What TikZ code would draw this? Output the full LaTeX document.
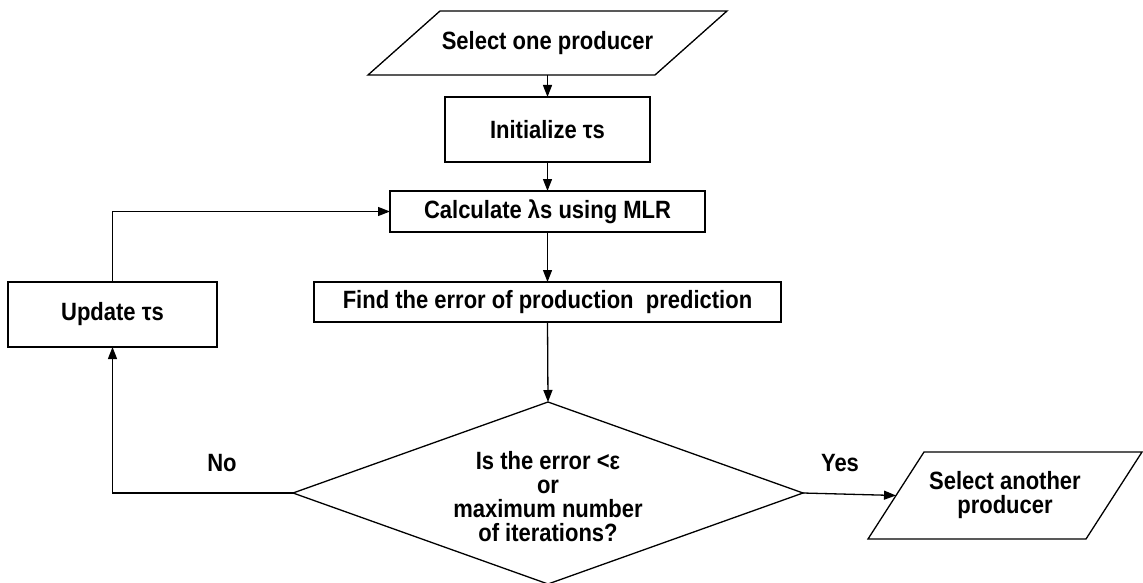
\documentclass[tikz,border=0pt]{standalone}
\usepackage{fontspec}
\setmainfont{Liberation Sans}[FakeStretch=0.88]
\usetikzlibrary{arrows.meta,shapes.geometric}
\begin{document}
\begin{tikzpicture}[x=1pt,y=-1pt,
  every node/.style={font=\fontsize{25}{24}\selectfont\bfseries, align=center, inner sep=0pt, outer sep=0pt},
  box/.style={draw, line width=1.3pt},
  iobox/.style={},
  shapeline/.style={line width=1.3pt, line join=miter},
  link/.style={line width=1.3pt, -{Triangle[length=12pt,width=9pt]}},
  lbl/.style={}]
\useasboundingbox (0,0) rectangle (1143,583);

\node[iobox, minimum width=287pt, minimum height=64pt] (sel1) at (547.5,43) {Select one producer};
\draw[shapeline] ([xshift=-36pt]sel1.south west) -- ([xshift=-36pt]sel1.south east) -- ([xshift=36pt]sel1.north east) -- ([xshift=36pt]sel1.north west) -- cycle;

\node[box, minimum width=205pt, minimum height=65pt] (init) at (547.5,129.5) {Initialize τs};
\node[box, minimum width=315pt, minimum height=41pt] (calc) at (547.5,211.5) {Calculate λs using MLR};
\node[box, minimum width=467pt, minimum height=40pt] (find) at (547.5,302) {Find the error of production\ \ prediction};
\node[box, minimum width=209pt, minimum height=65pt] (upd) at (112.5,314.5) {Update τs};

\node[draw, shape=diamond, line width=1.3pt, minimum width=510pt, minimum height=182pt, aspect=2.8] (dia) at (548,493) {};
\node (diat) at (548,497) {Is the error <ε\\or\\maximum number\\of iterations?};

\node[iobox, minimum width=218pt, minimum height=87pt] (sel2) at (1005,495.5) {Select another\\producer};
\draw[shapeline] ([xshift=-28pt]sel2.south west) -- ([xshift=-28pt]sel2.south east) -- ([xshift=28pt]sel2.north east) -- ([xshift=28pt]sel2.north west) -- cycle;

\node[lbl] (no) at (222,463) {No};
\node[lbl] (yes) at (840,463) {Yes};

\draw[link] (sel1.south) -- (init.north);
\draw[link] (init.south) -- (calc.north);
\draw[link] (calc.south) -- (find.north);
\draw[link] (find.south) -- (dia.north);
\draw[link] (dia.east) -- (sel2.west);
\draw[link] (dia.west) -| (upd.south);
\draw[link] (upd.north) |- (calc.west);
\end{tikzpicture}
\end{document}
